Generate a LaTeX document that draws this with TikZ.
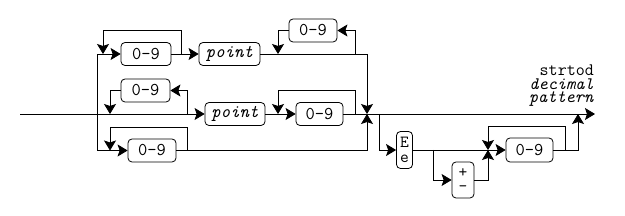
\documentclass[tikz,border=0pt]{standalone}
\usetikzlibrary{arrows.meta}
\begin{document}
\begin{tikzpicture}[x=1pt,y=-1pt,
  box/.style={draw, rounded corners=4pt, line width=0.8pt, inner sep=0pt,
    font=\ttfamily\fontsize{18}{13}\selectfont, align=center, minimum height=23pt},
  ln/.style={line width=0.8pt},
  arr/.style={ln, -{Stealth[length=10pt,width=12pt,inset=2pt]}}
]
\useasboundingbox (0,0) rectangle (625,216);
% boxes
\node[box, minimum width=50pt] (a1) at (146,54) {0-9};
\node[box, minimum width=61pt] (p1) at (229.5,54) {\itshape point};
\node[box, minimum width=48pt] (b1) at (313,30.5) {0-9};
\node[box, minimum width=49pt] (a2) at (145.5,90.5) {0-9};
\node[box, minimum width=60pt] (p2) at (235,114) {\itshape point};
\node[box, minimum width=47pt] (b2) at (319.5,114) {0-9};
\node[box, minimum width=48pt] (a3) at (152,150.5) {0-9};
\node[box, minimum width=16pt, minimum height=37pt,
  font=\ttfamily\fontsize{17}{15}\selectfont] (e) at (404.5,150) {E\\e};
\node[box, minimum width=22pt, minimum height=36pt,
  font=\ttfamily\fontsize{17}{14}\selectfont] (pm) at (463,180) {+\\-};
\node[box, minimum width=47pt, minimum height=24pt] (d) at (529.5,150) {0-9};
\node[anchor=east, align=right, inner sep=0pt,
  font=\ttfamily\fontsize{17.5}{13.5}\selectfont] (lbl) at (594,86)
  {strtod\\\textit{decimal}\\\textit{pattern}};
% coordinates
\coordinate (start) at (20,114);
\coordinate (stop) at (595,114);
\coordinate (j1) at (97,114);
\coordinate (m1) at (367,114);
\coordinate (l1a) at (181,54);
\coordinate (l1b) at (103,54);
\coordinate (l1c) at (355,54);
\coordinate (l1d) at (278,54);
\coordinate (l2a) at (187,114);
\coordinate (l2b) at (110,114);
\coordinate (l2c) at (355,114);
\coordinate (l2d) at (278,114);
\coordinate (l3a) at (187,150.5);
\coordinate (l3b) at (110,150.5);
\coordinate (x1) at (379,114);
\coordinate (x2) at (433,150);
\coordinate (x3) at (488,150);
\coordinate (x4) at (578,114);
\coordinate (x5) at (565,150);
% main line
\draw[arr] (start) -- (p2.west);
\draw[arr] (p2.east) -- (b2.west);
\draw[ln] (b2.east) -- (m1);
\draw[arr] (m1) -- (stop);
% left branches
\draw[arr] (j1) |- (a1.west);
\draw[arr] (j1) |- (a3.west);
% row 1
\draw[arr] (a1.east) -- (p1.west);
\draw[arr] (l1a) -- ++(0,-24) -| (l1b);
\draw[arr] (p1.east) -| (m1);
\draw[arr] (l1c) |- (b1.east);
\draw[arr] (b1.west) -| (l1d);
% row 2
\draw[arr] (l2a) |- (a2.east);
\draw[arr] (a2.west) -| (l2b);
\draw[arr] (l2c) -- ++(0,-24) -| (l2d);
% row 3
\draw[arr] (l3a) -- ++(0,-23.5) -| (l3b);
\draw[arr] (a3.east) -| (m1);
% exponent
\draw[arr] (x1) |- (e.west);
\draw[arr] (e.east) -- (d.west);
\draw[arr] (x2) |- (pm.west);
\draw[arr] (pm.east) -| (x3);
\draw[arr] (x5) -- ++(0,-24) -| (x3);
\draw[arr] (d.east) -| (x4);
\end{tikzpicture}
\end{document}
